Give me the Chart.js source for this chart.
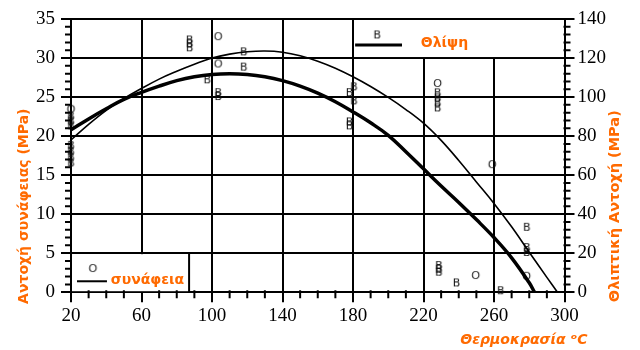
<!DOCTYPE html>
<html>
<head>
<meta charset="utf-8">
<script src="https://cdn.jsdelivr.net/npm/chart.js@4/dist/chart.umd.min.js"></script>
<style>
  body { margin: 0; background: #fff; }
  #c { display: block; }
</style>
</head>
<body>
<canvas id="c" width="640" height="350"></canvas>
<script>
// bond strength curve (left axis, MPa)
const bondTemps = [20, 30, 40, 50, 60, 70, 80, 90, 100, 110, 120, 130, 140, 150, 160, 170, 180, 190, 200, 210, 220, 230, 240, 250, 260, 270, 280, 283];
const bondValues = [20.8, 22.2, 23.5, 24.7, 25.6, 26.4, 27.1, 27.6, 27.9, 28.0, 27.9, 27.6, 27.1, 26.4, 25.5, 24.4, 23.1, 21.7, 20.1, 18.0, 15.8, 13.6, 11.5, 9.3, 7.0, 4.4, 1.2, 0];

// compressive strength curve (right axis, MPa)
const compTemps = [20, 30, 40, 50, 60, 70, 80, 90, 100, 110, 120, 130, 140, 150, 160, 170, 180, 190, 200, 210, 220, 230, 240, 250, 260, 270, 280, 290, 296];
const compValues = [78, 86, 93.2, 99.2, 104.4, 109.2, 113.2, 116.8, 120, 122, 123.2, 123.6, 123, 121.2, 118.4, 114.8, 110.4, 105.4, 99.8, 93.6, 86.6, 77.8, 67.5, 56.5, 45.5, 33.5, 20.5, 7.6, 0];

// measured points: "o" = bond, "B" = compression
const bondMarkTemps = [20, 103.5, 103.5, 228, 259, 249.6, 278.5];
const bondMarkValues = [23.5, 32.8, 29.3, 26.8, 16.4, 2.2, 2.1];
const compMarkTemps = [20, 20, 20, 20, 20, 20, 20, 87.3, 87.3, 87.3, 118, 118, 97.3, 103.5, 103.5, 180.5, 180.5, 178, 178, 178, 228, 228, 228, 228, 278.6, 278.6, 278.6, 228.7, 228.7, 228.7, 238.7, 263.8];
const compMarkValues = [90, 87.5, 85, 75, 72, 69, 66, 129, 127, 125, 122.9, 115.1, 108.6, 102, 100, 105, 97.8, 102, 87, 85, 101.9, 99.3, 96.8, 94.2, 33, 22.6, 20.1, 13.4, 11.5, 10, 4.5, 0.5];

// axis ranges / ticks
const tempTicks = [20, 300, 40];
const bondTicks = [0, 35, 5];
const compTicks = [0, 140, 20];

const orange = '#ff6a00';

function glyph(ch, font) {
    const cv = document.createElement('canvas');
    cv.width = 11; cv.height = 12;
    const g = cv.getContext('2d');
    g.fillStyle = '#111';
    g.font = font;
    g.textAlign = 'center';
    g.textBaseline = 'middle';
    g.fillText(ch, 5.5, 6.5);
    return cv;
}
const markB = glyph('B', '11px "DejaVu Sans"');
const markO = glyph('O', '11px "Liberation Sans"');

const zip = (xs, ys) => xs.map((v, i) => ({x: v, y: ys[i]}));

const boxes = {
    id: 'boxes',
    beforeDatasetsDraw(chart) {
        const {ctx, scales: {x, y}} = chart;
        ctx.save();
        // bottom-left legend box
        let l = x.getPixelForValue(20), r = x.getPixelForValue(87), t = y.getPixelForValue(5), b = y.getPixelForValue(0);
        ctx.fillStyle = '#fff';
        ctx.fillRect(l + 1, t + 1, r - l - 1, b - t - 2);
        ctx.strokeStyle = '#000';
        ctx.lineWidth = 2;
        ctx.beginPath(); ctx.moveTo(r, t); ctx.lineTo(r, b); ctx.stroke();
        ctx.beginPath();
        ctx.moveTo(x.getPixelForValue(23.4), y.getPixelForValue(1.4));
        ctx.lineTo(x.getPixelForValue(40.4), y.getPixelForValue(1.4));
        ctx.stroke();
        ctx.drawImage(markO, x.getPixelForValue(32.4) - 5.5, y.getPixelForValue(3.1) - 6);
        ctx.fillStyle = orange;
        ctx.font = 'bold 14px "DejaVu Sans"';
        ctx.textBaseline = 'middle';
        ctx.fillText('συνάφεια', x.getPixelForValue(42.6), y.getPixelForValue(1.5));

        // top-right legend box
        l = x.getPixelForValue(180); r = x.getPixelForValue(300); t = y.getPixelForValue(35); b = y.getPixelForValue(30);
        ctx.fillStyle = '#fff';
        ctx.fillRect(l + 1, t + 1, r - l - 2, b - t - 2);
        ctx.lineWidth = 3;
        ctx.beginPath();
        ctx.moveTo(x.getPixelForValue(181.2), y.getPixelForValue(31.66));
        ctx.lineTo(x.getPixelForValue(207.8), y.getPixelForValue(31.66));
        ctx.stroke();
        ctx.drawImage(markB, x.getPixelForValue(193.7) - 5.5, y.getPixelForValue(32.9) - 6);
        ctx.fillStyle = orange;
        ctx.fillText('Θλίψη', x.getPixelForValue(218.5), y.getPixelForValue(31.9));
        ctx.restore();
    }
};

const extras = {
    id: 'extras',
    afterDraw(chart) {
        const {ctx, scales: {x, y, y2}} = chart;
        ctx.save();
        // minor ticks
        ctx.strokeStyle = '#000';
        ctx.lineWidth = 2;
        ctx.beginPath();
        for (let v = 30; v < 300; v += 10) {
            if ((v - 20) % 40 === 0) continue;
            const px = x.getPixelForValue(v);
            ctx.moveTo(px, y.bottom - 2); ctx.lineTo(px, y.bottom + 6);
        }
        for (let v = 1; v < 35; v++) {
            if (v % 5 === 0) continue;
            const py = y.getPixelForValue(v);
            ctx.moveTo(x.left - 6, py); ctx.lineTo(x.left + 1, py);
        }
        for (let v = 4; v < 140; v += 4) {
            if (v % 20 === 0) continue;
            const py = y2.getPixelForValue(v);
            ctx.moveTo(x.right - 1, py); ctx.lineTo(x.right + 6, py);
        }
        ctx.stroke();

        // axis titles (placed off-centre like the original)
        ctx.fillStyle = orange;
        ctx.textBaseline = 'middle';
        ctx.font = 'italic bold 14px "DejaVu Sans"';
        ctx.textAlign = 'right';
        ctx.fillText('Θερμοκρασία ᵒC', x.right + 23, chart.height - 10);

        ctx.font = 'bold 14px "DejaVu Sans"';
        ctx.textAlign = 'center';
        ctx.save();
        ctx.translate(24, y.bottom - 86);
        ctx.rotate(-Math.PI / 2);
        ctx.fillText('Αντοχή συνάφειας (MPa)', 0, 0);
        ctx.restore();

        ctx.font = 'bold 14.5px "DejaVu Sans"';
        ctx.save();
        ctx.translate(615, y.bottom - 86);
        ctx.rotate(-Math.PI / 2);
        ctx.fillText('Θλιπτική Αντοχή (MPa)', 0, 0);
        ctx.restore();
        ctx.restore();
    }
};

const tickFont = {family: '"Liberation Serif"', size: 19};

new Chart(document.getElementById('c'), {
    type: 'line',
    data: {
        datasets: [
            {
                label: 'συνάφεια',
                data: zip(bondTemps, bondValues),
                yAxisID: 'y',
                borderColor: '#000',
                borderWidth: 3.5,
                pointRadius: 0,
                tension: 0.4
            },
            {
                label: 'Θλίψη',
                data: zip(compTemps, compValues),
                yAxisID: 'y2',
                borderColor: '#000',
                borderWidth: 1.6,
                pointRadius: 0,
                tension: 0.4
            },
            {
                type: 'scatter',
                label: 'o',
                data: zip(bondMarkTemps, bondMarkValues),
                yAxisID: 'y',
                pointStyle: markO,
                clip: false
            },
            {
                type: 'scatter',
                label: 'B',
                data: zip(compMarkTemps, compMarkValues),
                yAxisID: 'y2',
                pointStyle: markB,
                clip: false
            }
        ]
    },
    options: {
        responsive: false,
        animation: false,
        layout: {padding: {left: 30, right: 31, top: 19, bottom: 21}},
        plugins: {
            legend: {display: false},
            tooltip: {enabled: false}
        },
        scales: {
            x: {
                type: 'linear',
                min: tempTicks[0], max: tempTicks[1],
                ticks: {stepSize: tempTicks[2], color: '#000', font: tickFont, padding: 2, maxRotation: 0},
                grid: {color: '#000', lineWidth: 2, tickLength: 10},
                border: {color: '#000', width: 2}
            },
            y: {
                position: 'left',
                min: bondTicks[0], max: bondTicks[1],
                ticks: {stepSize: bondTicks[2], color: '#000', font: tickFont, padding: 6},
                grid: {color: '#000', lineWidth: 2, tickLength: 10},
                border: {color: '#000', width: 2}
            },
            y2: {
                position: 'right',
                min: compTicks[0], max: compTicks[1],
                ticks: {stepSize: compTicks[2], color: '#000', font: tickFont, padding: 3},
                grid: {drawOnChartArea: false, color: '#000', lineWidth: 2, tickLength: 10},
                border: {color: '#000', width: 2}
            }
        }
    },
    plugins: [boxes, extras]
});
</script>
</body>
</html>
